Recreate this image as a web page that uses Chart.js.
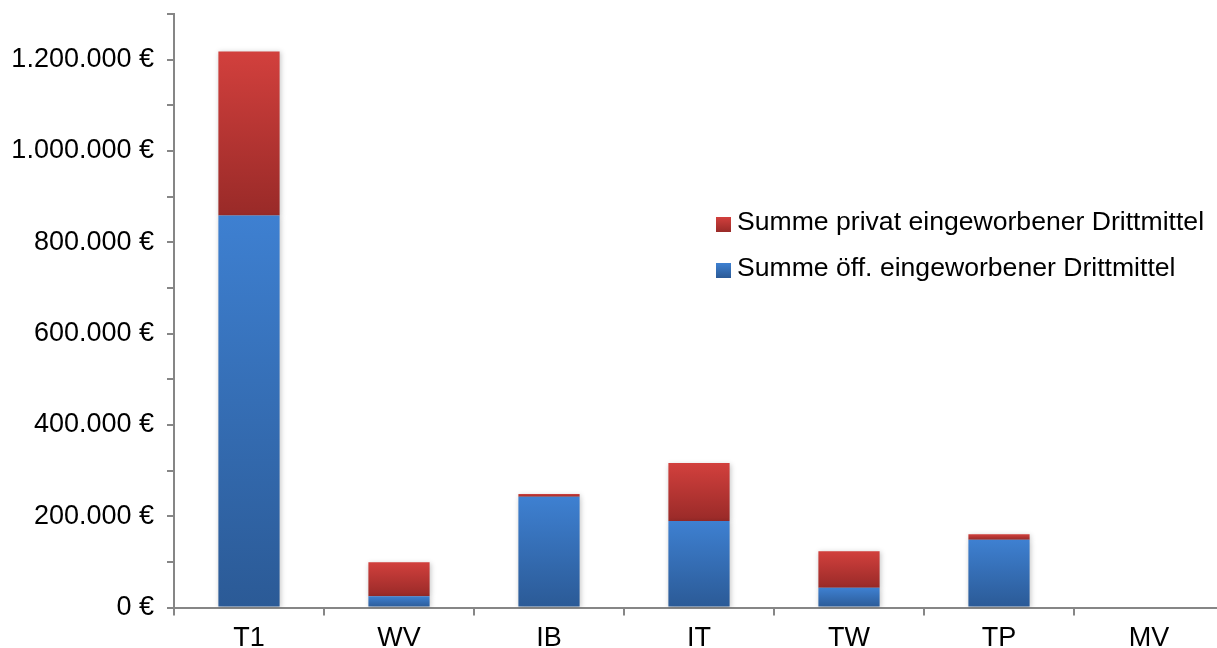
<!DOCTYPE html>
<html lang="de">
<head>
<meta charset="utf-8">
<title>Drittmittel</title>
<script src="https://cdn.jsdelivr.net/npm/chart.js@4/dist/chart.umd.min.js"></script>
<style>
  html, body { margin: 0; padding: 0; background: #fff; overflow: hidden; }
  #wrap { position: relative; width: 1224px; height: 648px; }
</style>
</head>
<body>
<div id="wrap"><canvas id="c"></canvas></div>
<script>
// Bereiche
const categories = ['T1', 'WV', 'IB', 'IT', 'TW', 'TP', 'MV'];
// Öffentlich eingeworbene Drittmittel (€)
const publicFunds = [858600, 24800, 242500, 189200, 43000, 148200, 0];
// Privat eingeworbene Drittmittel (€)
const privateFunds = [359400, 74500, 5900, 127200, 80400, 12500, 0];
const seriesLabels = ['Summe öff. eingeworbener Drittmittel', 'Summe privat eingeworbener Drittmittel'];
// Achsenwerte
const yMax = 1300000;
const yStep = 100000;
const yLabelStep = 200000;

const FONT = '"Liberation Sans", Arial, sans-serif';
const AXIS = '#868686';

const palettes = [
  { top: '#3e80d1', bottom: '#2b5a96' },
  { top: '#d2403d', bottom: '#992a28' }
];

function euro(v) {
  return String(Math.round(v)).replace(/\B(?=(\d{3})+(?!\d))/g, '.') + ' €';
}

// Vertikaler Verlauf je Balkensegment
function segmentFill(dsIndex) {
  return (ctx) => {
    const chart = ctx.chart;
    const pal = palettes[dsIndex];
    if (ctx.type !== 'data' || !chart.chartArea || !chart.scales.y) return pal.top;
    const i = ctx.dataIndex;
    const base = dsIndex === 0 ? 0 : publicFunds[i];
    const val = dsIndex === 0 ? publicFunds[i] : privateFunds[i];
    const y0 = chart.scales.y.getPixelForValue(base);
    const y1 = chart.scales.y.getPixelForValue(base + val);
    if (!isFinite(y0) || !isFinite(y1) || Math.abs(y0 - y1) < 0.5) return pal.top;
    const g = chart.ctx.createLinearGradient(0, y1, 0, y0);
    g.addColorStop(0, pal.top);
    g.addColorStop(1, pal.bottom);
    return g;
  };
}

// Leichter Schatten unter den Balken
const barShadow = {
  id: 'barShadow',
  beforeDatasetsDraw(chart) {
    const c = chart.ctx;
    c.save();
    c.shadowColor = 'rgba(0,0,0,0.22)';
    c.shadowBlur = 5;
    c.shadowOffsetX = 1;
    c.shadowOffsetY = 1;
  },
  afterDatasetsDraw(chart) {
    chart.ctx.restore();
  }
};

// Legende innerhalb der Zeichenfläche, private Mittel oben
const innerLegend = {
  id: 'innerLegend',
  afterDraw(chart) {
    const c = chart.ctx;
    const x = 716, size = 15, rows = [224.5, 270.5];
    const order = [1, 0];
    c.save();
    c.font = '26.6px ' + FONT;
    c.textBaseline = 'middle';
    c.textAlign = 'left';
    order.forEach((dsIndex, r) => {
      const cy = rows[r];
      const pal = palettes[dsIndex];
      const g = c.createLinearGradient(0, cy - size / 2, 0, cy + size / 2);
      g.addColorStop(0, pal.top);
      g.addColorStop(1, pal.bottom);
      c.fillStyle = g;
      c.fillRect(x, cy - size / 2, size, size);
      c.fillStyle = '#000';
      c.fillText(chart.data.datasets[dsIndex].label, x + 21, cy - 2);
    });
    c.restore();
  }
};

new Chart(document.getElementById('c'), {
  type: 'bar',
  data: {
    labels: categories,
    datasets: [
      { label: seriesLabels[0], data: publicFunds, backgroundColor: segmentFill(0), borderWidth: 0 },
      { label: seriesLabels[1], data: privateFunds, backgroundColor: segmentFill(1), borderWidth: 0 }
    ]
  },
  options: {
    responsive: true,
    maintainAspectRatio: false,
    animation: false,
    devicePixelRatio: 1,
    layout: { padding: { top: 14, right: 0, left: 0, bottom: 0 } },
    datasets: { bar: { categoryPercentage: 1, barPercentage: 0.408 } },
    plugins: {
      legend: { display: false },
      tooltip: { enabled: false }
    },
    scales: {
      x: {
        stacked: true,
        offset: true,
        afterFit: (axis) => { axis.height = 40.5; axis.paddingLeft = 0; axis.paddingRight = 0; },
        border: { display: true, color: AXIS, width: 2 },
        grid: { offset: true, drawOnChartArea: false, drawTicks: true, tickLength: 8, color: AXIS, lineWidth: 2 },
        ticks: { color: '#000', font: { family: FONT, size: 27 }, padding: 7, maxRotation: 0, autoSkip: false }
      },
      y: {
        stacked: true,
        min: 0,
        max: yMax,
        afterFit: (axis) => { axis.width = 174; axis.paddingTop = 0; axis.paddingBottom = 0; },
        border: { display: true, color: AXIS, width: 2 },
        grid: { drawOnChartArea: false, drawTicks: true, tickLength: 7, color: AXIS, lineWidth: 2 },
        ticks: {
          stepSize: yStep,
          autoSkip: false,
          color: '#000',
          padding: 13,
          font: { family: FONT, size: 27 },
          callback: (v) => (v % yLabelStep === 0 ? euro(v) : '')
        }
      }
    }
  },
  plugins: [barShadow, innerLegend]
});
</script>
</body>
</html>
